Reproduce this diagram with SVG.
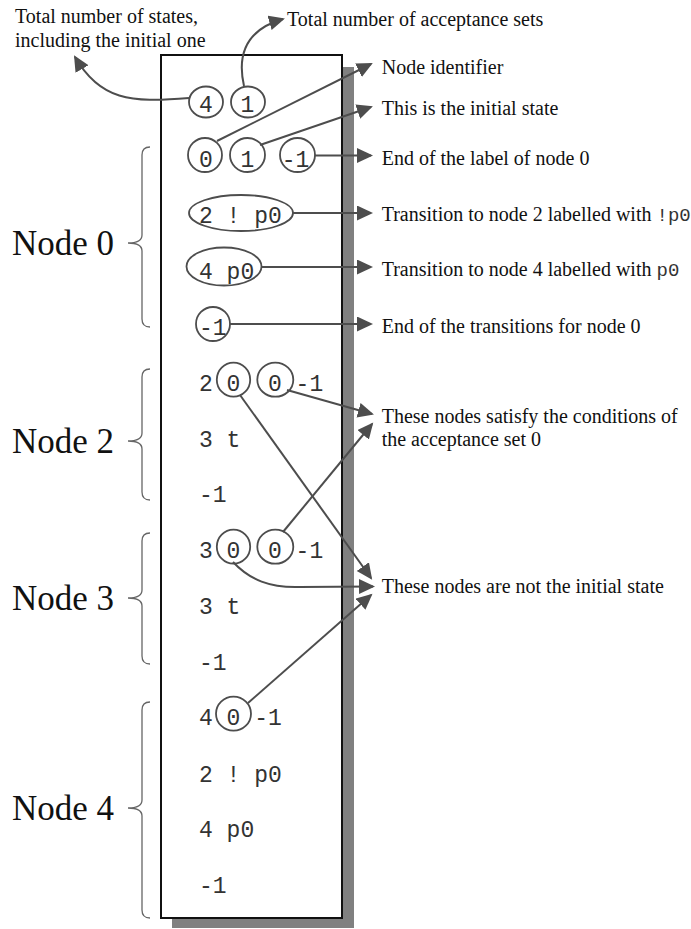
<svg xmlns="http://www.w3.org/2000/svg" width="691" height="929" viewBox="0 0 691 929">
  <style>
    .lbl { font-family: "Liberation Serif", "Times New Roman", serif; font-size: 20px; fill: #111; }
    .big { font-family: "Liberation Serif", "Times New Roman", serif; font-size: 35px; fill: #111; }
    .mono { font-family: "Liberation Mono", "Courier New", monospace; font-size: 23px; fill: #333; white-space: pre; }
    .mono-s { font-family: "Liberation Mono", "Courier New", monospace; font-size: 19px; fill: #333; }
    .ring { fill: none; stroke: #4d4d4d; stroke-width: 1.8; }
    .arrow { fill: none; stroke: #4d4d4d; stroke-width: 2; marker-end: url(#head); }
    .brace { fill: none; stroke: #666; stroke-width: 1.3; }
  </style>
  <defs>
    <marker id="head" markerUnits="userSpaceOnUse" markerWidth="17" markerHeight="16" refX="14" refY="7.5" orient="auto">
      <path d="M0,0 L16,7.5 L0,15 z" fill="#4d4d4d"/>
    </marker>
  </defs>

  <rect width="691" height="929" fill="#fff"/>

  <!-- file listing box with drop shadow -->
  <g id="listing">
    <rect x="172" y="67" width="182" height="861" fill="#808080"/>
    <rect x="161" y="55" width="181" height="863" fill="#fff" stroke="#111" stroke-width="2"/>
  </g>

  <!-- header: state count and acceptance set count -->
  <g id="header">
    <text class="mono" x="199" y="111.5">4  1</text>
    <ellipse class="ring" cx="206" cy="102" rx="17" ry="15.5"/>
    <ellipse class="ring" cx="248" cy="102" rx="17" ry="15.5"/>
  </g>

  <!-- node 0 -->
  <g id="node0">
    <text class="mono" x="199" y="167">0  1  -1</text>
    <ellipse class="ring" cx="205" cy="155" rx="17" ry="17"/>
    <ellipse class="ring" cx="247.5" cy="155" rx="17.5" ry="17"/>
    <ellipse class="ring" cx="297.5" cy="155" rx="17.5" ry="17"/>
    <text class="mono" x="199" y="223">2 ! p0</text>
    <ellipse class="ring" cx="241" cy="213" rx="52" ry="18"/>
    <text class="mono" x="199" y="278.5">4 p0</text>
    <ellipse class="ring" cx="224" cy="266.5" rx="37.5" ry="19"/>
    <text class="mono" x="199" y="334.5">-1</text>
    <ellipse class="ring" cx="213" cy="324" rx="17" ry="17"/>
  </g>

  <!-- node 2 -->
  <g id="node2">
    <text class="mono" x="199" y="390.5">2 0  0 -1</text>
    <ellipse class="ring" cx="233.5" cy="379.7" rx="16.7" ry="17"/>
    <ellipse class="ring" cx="275.3" cy="379.7" rx="18" ry="17"/>
    <text class="mono" x="199" y="446.5">3 t</text>
    <text class="mono" x="199" y="502">-1</text>
  </g>

  <!-- node 3 -->
  <g id="node3">
    <text class="mono" x="199" y="558">3 0  0 -1</text>
    <ellipse class="ring" cx="233.5" cy="546.7" rx="16.7" ry="17"/>
    <ellipse class="ring" cx="275.3" cy="546.7" rx="18" ry="17"/>
    <text class="mono" x="199" y="613.5">3 t</text>
    <text class="mono" x="199" y="669.5">-1</text>
  </g>

  <!-- node 4 -->
  <g id="node4">
    <text class="mono" x="199" y="725">4 0 -1</text>
    <ellipse class="ring" cx="233.5" cy="713.7" rx="17.5" ry="17"/>
    <text class="mono" x="199" y="781.5">2 ! p0</text>
    <text class="mono" x="199" y="837">4 p0</text>
    <text class="mono" x="199" y="893">-1</text>
  </g>

  <!-- braces and section names -->
  <g id="sections">
    <path class="brace" d="M150 147 Q142 147 142 155 L142 235 Q142 243 128 243 Q142 243 142 251 L142 319 Q142 327 150 327"/>
    <text class="big" x="12" y="255">Node 0</text>
    <path class="brace" d="M150 369 Q142 369 142 377 L142 433 Q142 441 128 441 Q142 441 142 449 L142 492 Q142 500 150 500"/>
    <text class="big" x="12" y="453">Node 2</text>
    <path class="brace" d="M150 533 Q142 533 142 541 L142 590 Q142 598 128 598 Q142 598 142 606 L142 656 Q142 664 150 664"/>
    <text class="big" x="12" y="610">Node 3</text>
    <path class="brace" d="M150 702 Q142 702 142 710 L142 800 Q142 808 128 808 Q142 808 142 816 L142 910 Q142 918 150 918"/>
    <text class="big" x="12" y="820">Node 4</text>
  </g>

  <!-- explanatory notes -->
  <g id="notes">
    <text class="lbl" x="15" y="23">Total number of states,</text>
    <text class="lbl" x="15" y="47">including the initial one</text>
    <text class="lbl" x="287" y="25.5">Total number of acceptance sets</text>
    <text class="lbl" x="381.7" y="74">Node identifier</text>
    <text class="lbl" x="381.7" y="115">This is the initial state</text>
    <text class="lbl" x="381.7" y="165">End of the label of node 0</text>
    <text class="lbl" x="381.7" y="220.5">Transition to node 2 labelled with <tspan class="mono-s">!p0</tspan></text>
    <text class="lbl" x="381.7" y="276">Transition to node 4 labelled with <tspan class="mono-s">p0</tspan></text>
    <text class="lbl" x="381.7" y="333">End of the transitions for node 0</text>
    <text class="lbl" x="381.7" y="423">These nodes satisfy the conditions of</text>
    <text class="lbl" x="381.7" y="446">the acceptance set 0</text>
    <text class="lbl" x="381.7" y="593">These nodes are not the initial state</text>
  </g>

  <!-- connectors -->
  <g id="connectors">
    <path class="arrow" d="M189 98 C130 103 100 100 75 57"/>
    <path class="arrow" d="M244 86 C237 55 245 30 283 19"/>
    <path class="arrow" d="M217 141 L371 64"/>
    <path class="arrow" d="M260 145 L371 107"/>
    <path class="arrow" d="M315 155.5 L371 155.5"/>
    <path class="arrow" d="M293 213 L371 213"/>
    <path class="arrow" d="M261.5 267 L371 267"/>
    <path class="arrow" d="M230 324 L371 324"/>
    <path class="arrow" d="M287 390 L372 414"/>
    <path class="arrow" d="M283 532 L372 424"/>
    <path class="arrow" d="M240 395 L371 578"/>
    <path class="arrow" d="M233 562 C250 580 270 588 300 587 L373 586.5"/>
    <path class="arrow" d="M248 703 L371 595"/>
  </g>
</svg>
